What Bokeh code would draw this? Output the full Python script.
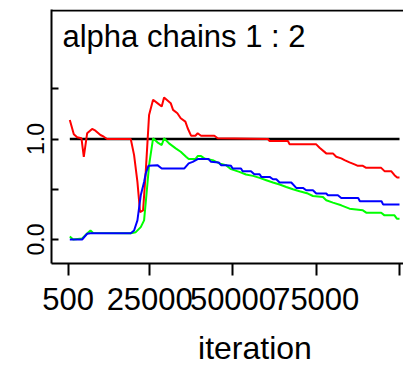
from bokeh.plotting import figure
from bokeh.models import FixedTicker, Span, Label, Range1d, LinearAxis
from bokeh.embed import file_html
from bokeh.resources import INLINE

# ---- data ----
red_iter = [1000, 2200, 3200, 4500, 5200, 6200, 7700, 8700, 10200, 11200, 12200,
            19300, 20300, 21300, 22100, 23000, 23800, 24800, 26000, 27300, 28600,
            29300, 31300, 32000, 33300, 34300, 35700, 36400, 37400, 38700, 39400,
            40400, 44400, 45400, 60500, 61000, 66500, 67000, 75000, 76000, 78000,
            80000, 81000, 82500, 83500, 85000, 86500, 87500, 89000, 90000, 94500,
            95500, 97500, 98500, 99300, 100000]
red_val = [1.19, 1.047, 1.017, 1.007, 0.823, 1.057, 1.10, 1.083, 1.04, 1.023, 1.0,
           1.0, 0.84, 0.573, 0.273, 0.29, 0.673, 1.24, 1.39, 1.357, 1.323,
           1.413, 1.357, 1.29, 1.257, 1.207, 1.173, 1.107, 1.033, 1.033, 1.057,
           1.033, 1.033, 1.007, 1.0, 0.98, 0.98, 0.947, 0.947, 0.913, 0.857,
           0.857, 0.823, 0.807, 0.79, 0.767, 0.747, 0.733, 0.733, 0.713, 0.713,
           0.68, 0.68, 0.64, 0.617, 0.617]

green_iter = [1000, 2000, 4700, 6200, 7200, 8000, 19300, 20800, 22300, 23300, 24000,
              24800, 26000, 27300, 28600, 29300, 30800, 32800, 34300, 35900, 36700,
              38700, 39400, 40400, 41400, 43900, 45900, 47900, 49400, 51900, 53900,
              56000, 58000, 60000, 62000, 64000, 66000, 68000, 70000, 72500, 74000,
              77000, 78000, 80000, 82500, 85000, 89000, 90000, 94500, 95500, 98500,
              99200, 100000]
green_val = [0.03, 0.0, 0.01, 0.06, 0.09, 0.065, 0.063, 0.073, 0.123, 0.19, 0.44,
             0.74, 1.007, 0.967, 0.94, 1.007, 0.957, 0.907, 0.873, 0.823, 0.80,
             0.80, 0.83, 0.83, 0.807, 0.79, 0.757, 0.74, 0.70, 0.673, 0.647,
             0.633, 0.613, 0.59, 0.567, 0.547, 0.523, 0.50, 0.48, 0.457, 0.433,
             0.423, 0.39, 0.367, 0.34, 0.307, 0.29, 0.267, 0.267, 0.24, 0.24,
             0.207, 0.207]

blue_iter = [1000, 4700, 6200, 7200, 19300, 20300, 21300, 22300, 23300, 23800, 24600,
             27300, 28600, 35400, 36700, 37900, 39400, 42700, 43400, 45700, 46400,
             47900, 49400, 49900, 52400, 52900, 55400, 56400, 58000, 58500, 61000,
             62000, 63000, 64000, 67500, 69000, 71000, 72000, 74000, 75000, 78000,
             78500, 81500, 82500, 87600, 88100, 94600, 95100, 100000]
blue_val = [0.0, 0.0, 0.057, 0.063, 0.063, 0.09, 0.19, 0.44, 0.573, 0.657, 0.733,
            0.74, 0.707, 0.707, 0.757, 0.773, 0.80, 0.80, 0.773, 0.767, 0.74,
            0.74, 0.733, 0.707, 0.707, 0.68, 0.68, 0.65, 0.65, 0.623, 0.623,
            0.60, 0.60, 0.567, 0.567, 0.513, 0.513, 0.49, 0.49, 0.457, 0.457,
            0.44, 0.44, 0.413, 0.413, 0.38, 0.38, 0.347, 0.347]

ref_iter = [1000, 100000]
ref_val = [1.0, 1.0]

x_ticks = [500, 25000, 50000, 75000, 100000]
x_tick_labels = ["500", "25000", "50000", "75000", ""]
y_ticks = [0.0, 0.5, 1.0, 1.5]
y_tick_labels = ["0.0", "", "1.0", ""]

title_text = "alpha chains 1 : 2"
x_label = "iteration"
x_label_at = 56600   # centre of the original (wider) plotting region

FONT = "Liberation Sans"

p = figure(width=403, height=368, output_backend="svg", toolbar_location=None,
           x_range=Range1d(-4500, 101200), y_range=Range1d(-0.239, 2.289),
           min_border_left=51, min_border_right=0, min_border_top=9,
           min_border_bottom=105)
p.outline_line_color = None
p.grid.visible = False
p.background_fill_color = "white"
p.border_fill_color = "white"

p.line(ref_iter, ref_val, line_color="black", line_width=2.5)
p.line(red_iter, red_val, line_color="#ff0000", line_width=2)
p.line(green_iter, green_val, line_color="#00ff00", line_width=2)
p.line(blue_iter, blue_val, line_color="#0000ff", line_width=2)

# top border of box
p.add_layout(Span(location=2.279, dimension="width", line_color="black", line_width=2))

xa = p.xaxis[0]
xa.ticker = FixedTicker(ticks=x_ticks)
xa.major_label_overrides = {t: l for t, l in zip(x_ticks, x_tick_labels)}
xa.axis_line_width = 2
xa.major_tick_line_width = 2
xa.major_tick_in = 0
xa.major_tick_out = 12
xa.minor_tick_line_color = None
xa.major_label_text_font = FONT
xa.major_label_text_font_size = "31px"
xa.major_label_text_color = "black"
xa.major_label_standoff = 12

# axis title, centred where R centred it
xl = LinearAxis(ticker=FixedTicker(ticks=[x_label_at]),
                major_label_overrides={x_label_at: x_label})
xl.axis_line_color = None
xl.major_tick_line_color = None
xl.minor_tick_line_color = None
xl.major_tick_out = 0
xl.major_tick_in = 0
xl.major_label_text_font = FONT
xl.major_label_text_font_size = "32px"
xl.major_label_text_color = "black"
xl.major_label_standoff = 17
p.add_layout(xl, "below")

ya = p.yaxis[0]
ya.ticker = FixedTicker(ticks=y_ticks)
ya.major_label_overrides = {t: l for t, l in zip(y_ticks, y_tick_labels)}
ya.axis_line_width = 2
ya.major_tick_line_width = 2
ya.major_tick_in = 7
ya.major_tick_out = 0
ya.minor_tick_line_color = None
ya.major_label_orientation = "vertical"
ya.major_label_text_font = FONT
ya.major_label_text_font_size = "23px"
ya.major_label_text_color = "black"
ya.major_label_standoff = 7

p.add_layout(Label(x=-1200, y=2.02, text=title_text, text_font=FONT,
                   text_font_size="31px", text_color="black",
                   text_baseline="alphabetic", text_align="left"))

open("out.html", "w").write(file_html(p, INLINE))
